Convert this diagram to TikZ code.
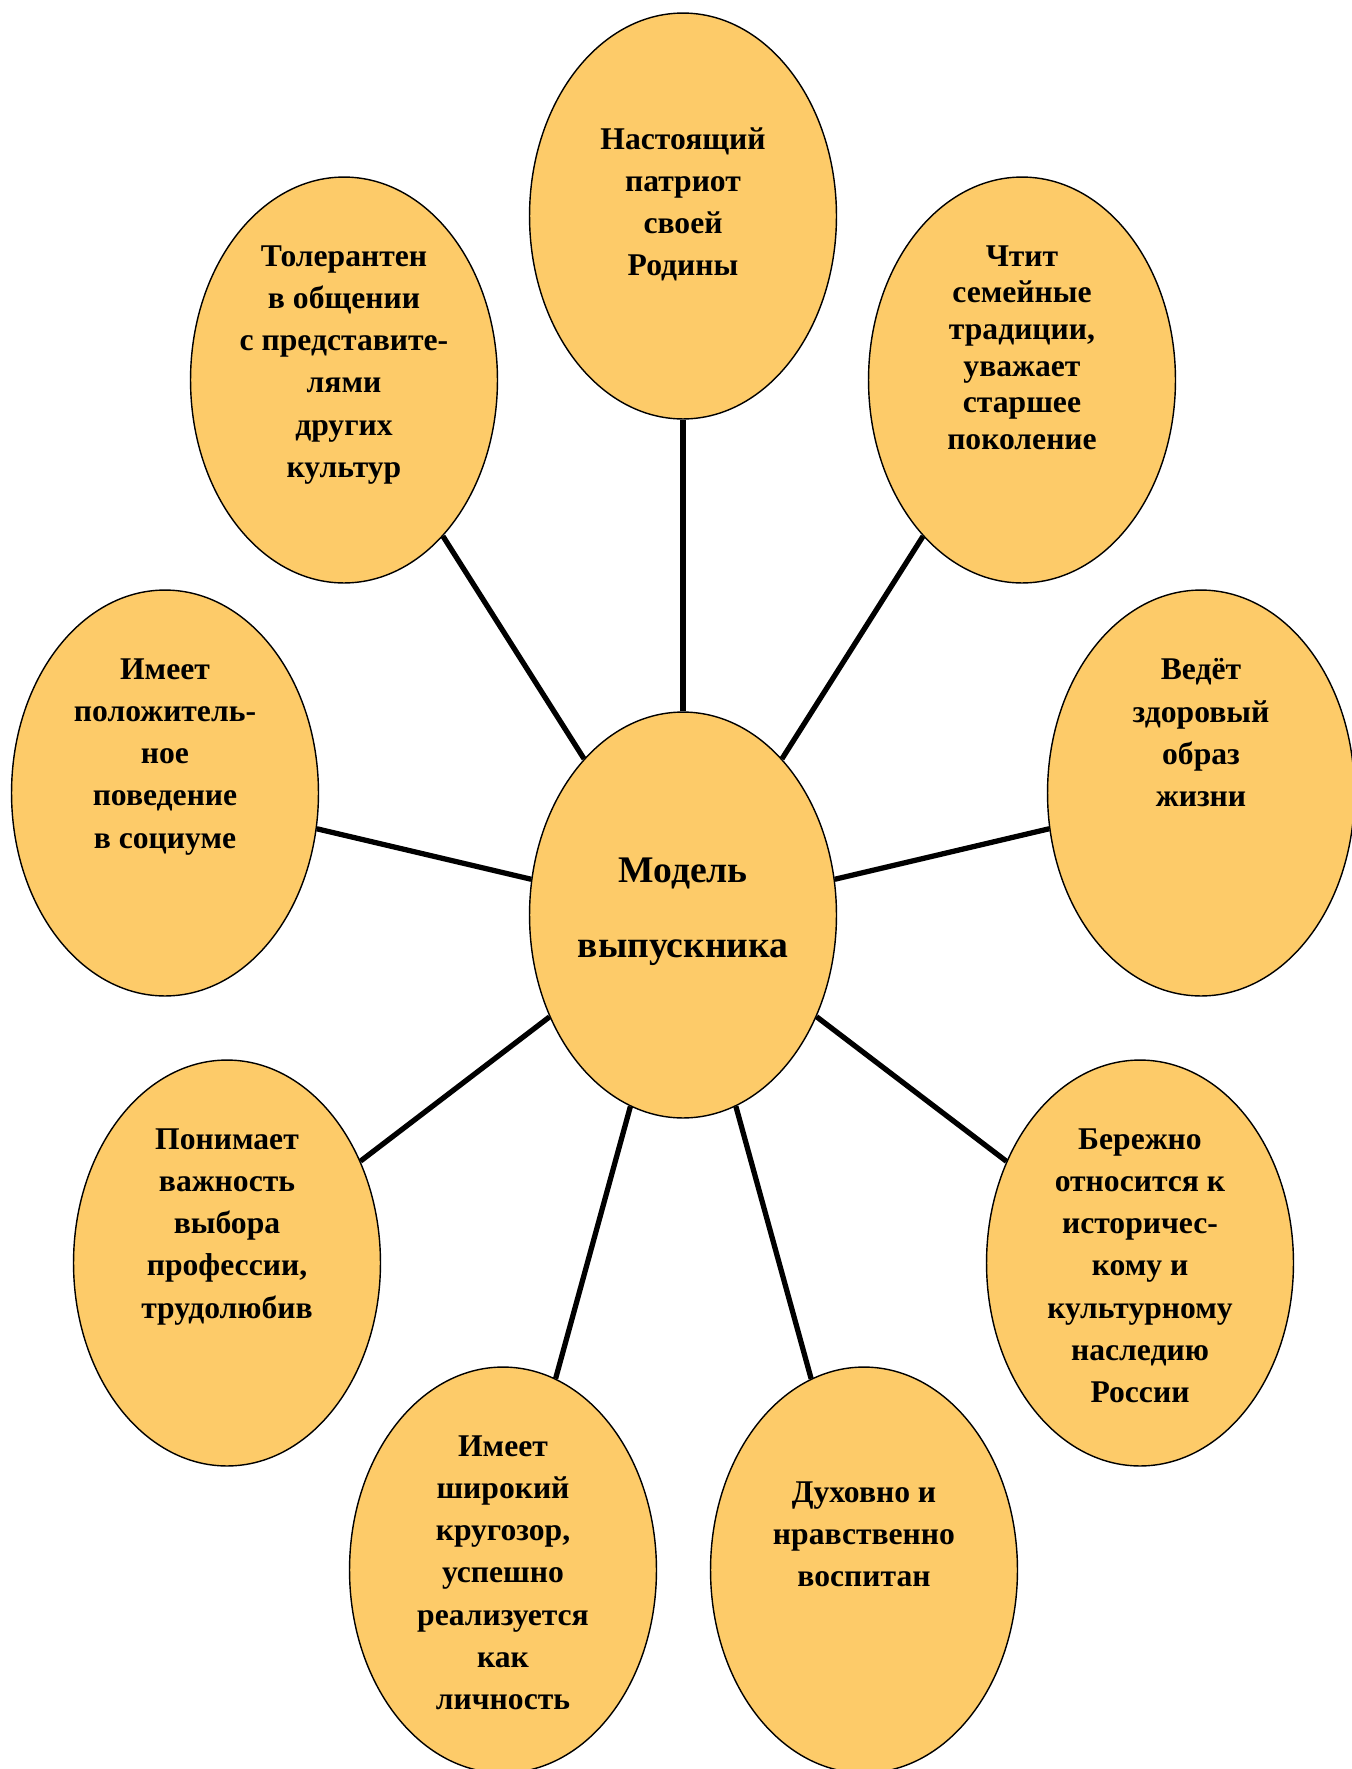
\documentclass[tikz,border=0pt]{standalone}
\usepackage{fontspec}
\setmainfont{Liberation Serif}
\usepackage{xcolor}
\definecolor{bub00}{HTML}{FDCB69}
\usepackage{tikz}
\usetikzlibrary{positioning}
\usetikzlibrary{shapes.geometric}
\tikzstyle{quality} = [ellipse, minimum width=6.14cm, minimum height=8.12cm, inner sep=0pt, draw=black, line width=0.8pt, fill=bub00]
\tikzstyle{qtext} = [align=center, inner sep=0pt, font=\bfseries\fontsize{18}{24}\selectfont]
\tikzstyle{qtext_tight} = [align=center, inner sep=0pt, font=\bfseries\fontsize{18}{20.8}\selectfont]
\tikzstyle{mtext} = [align=center, inner sep=0pt, font=\bfseries\fontsize{21.4}{42.7}\selectfont]
\tikzstyle{spoke} = [line width=3pt, black]

\begin{document}
\begin{tikzpicture}[x=0.02cm,y=-0.02cm]
        \useasboundingbox (0,0) rectangle (1352,1769);
        \node (model)[quality] at (683,915) {};
        \node (q1)[quality] at (683,216) {};
        \node (q2)[quality] at (1022,380) {};
        \node (q3)[quality] at (1201,793) {};
        \node (q4)[quality] at (1140,1263) {};
        \node (q5)[quality] at (864,1570) {};
        \node (q6)[quality] at (503,1570) {};
        \node (q7)[quality] at (227,1263) {};
        \node (q8)[quality] at (165,793) {};
        \node (q9)[quality] at (344,380) {};
        \draw [spoke] (model) -- (q1);
        \draw [spoke] (model) -- (q2);
        \draw [spoke] (model) -- (q3);
        \draw [spoke] (model) -- (q4);
        \draw [spoke] (model) -- (q5);
        \draw [spoke] (model) -- (q6);
        \draw [spoke] (model) -- (q7);
        \draw [spoke] (model) -- (q8);
        \draw [spoke] (model) -- (q9);
        \node (model_t)[mtext, below=2.92cm of model.north]{Модель\\выпускника};
        \node (q1t)[qtext, below=2.3cm of q1.north]{Настоящий\\патриот\\своей\\Родины};
        \node (q2t)[qtext_tight, below=1.38cm of q2.north]{Чтит\\семейные\\традиции,\\уважает\\старшее\\поколение};
        \node (q3t)[qtext, below=1.38cm of q3.north]{Ведёт\\здоровый\\образ\\жизни};
        \node (q4t)[qtext, below=1.38cm of q4.north]{Бережно\\относится к\\историчес-\\кому и\\культурному\\наследию\\России};
        \node (q5t)[qtext, below=2.3cm of q5.north]{Духовно и\\нравственно\\воспитан};
        \node (q6t)[qtext, below=1.38cm of q6.north]{Имеет\\широкий\\кругозор,\\успешно\\реализуется\\как\\личность};
        \node (q7t)[qtext, below=1.38cm of q7.north]{Понимает\\важность\\выбора\\профессии,\\трудолюбив};
        \node (q8t)[qtext, below=1.38cm of q8.north]{Имеет\\положитель-\\ное\\поведение\\в социуме};
        \node (q9t)[qtext, below=1.38cm of q9.north]{Толерантен\\в общении\\с представите-\\лями\\других\\культур};
    \end{tikzpicture}
\end{document}
